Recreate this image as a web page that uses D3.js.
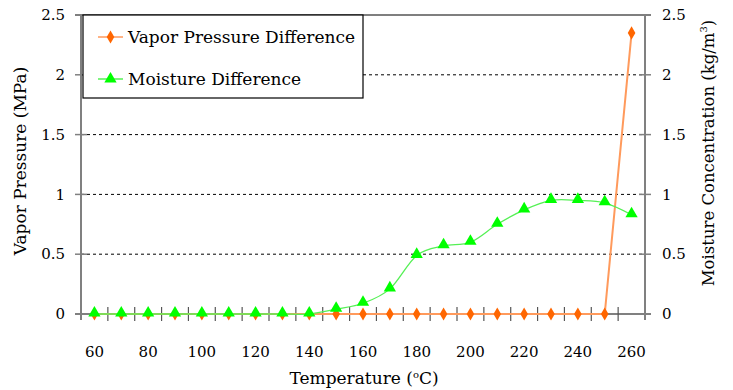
<!DOCTYPE html>
<html>
<head>
<meta charset="utf-8">
<script src="https://cdn.jsdelivr.net/npm/d3@7"></script>
<style>
  body { margin: 0; background: #fff; }
</style>
</head>
<body>
<div id="chart"></div>
<script>
// temperatures (°C)
const temps = [60, 70, 80, 90, 100, 110, 120, 130, 140, 150, 160, 170, 180, 190, 200, 210, 220, 230, 240, 250, 260];
// vapor pressure difference (MPa)
const vaporDiff = [0, 0, 0, 0, 0, 0, 0, 0, 0, 0, 0, 0, 0, 0, 0, 0, 0, 0, 0, 0, 2.35];
// moisture difference (kg/m3)
const moistureDiff = [0, 0, 0, 0, 0, 0, 0, 0, 0, 0.04, 0.09, 0.21, 0.49, 0.57, 0.6, 0.75, 0.87, 0.95, 0.95, 0.93, 0.83];
const yTicks = [0, 0.5, 1, 1.5, 2, 2.5];
const xLabels = [60, 80, 100, 120, 140, 160, 180, 200, 220, 240, 260];

const width = 733, height = 390;
const margin = { top: 15, right: 88, bottom: 76, left: 81 };
const plotW = width - margin.left - margin.right;
const plotH = height - margin.top - margin.bottom;
const serif = "DejaVu Serif"; // only serif face the renderer picks up

const svg = d3.select("#chart").append("svg")
    .attr("width", width)
    .attr("height", height);

const g = svg.append("g")
    .attr("transform", `translate(${margin.left},${margin.top})`);

const x = d3.scaleBand()
    .domain(temps)
    .range([0, plotW]);

const yL = d3.scaleLinear().domain([0, 2.5]).range([plotH, 0]);
const yR = d3.scaleLinear().domain([0, 2.5]).range([plotH, 0]);

const cx = d => x(d) + x.bandwidth() / 2;

// dashed gridlines
g.selectAll(".grid")
    .data(yTicks.filter(t => t > 0 && t < 2.5))
    .enter().append("line")
    .attr("x1", 0)
    .attr("x2", plotW)
    .attr("y1", d => yL(d))
    .attr("y2", d => yL(d))
    .attr("stroke", "#000")
    .attr("stroke-width", 1)
    .attr("stroke-dasharray", "3,3");

// top border
g.append("line")
    .attr("x1", -6).attr("x2", plotW + 6)
    .attr("y1", 0).attr("y2", 0)
    .attr("stroke", "#000").attr("stroke-width", 1.2);

// left axis
const axisCol = "#808080";
g.append("line")
    .attr("x1", 0).attr("x2", 0)
    .attr("y1", 0).attr("y2", plotH + 6)
    .attr("stroke", axisCol).attr("stroke-width", 2);
g.selectAll(".ltick")
    .data(yTicks.filter(t => t < 2.5))
    .enter().append("line")
    .attr("x1", -6).attr("x2", 6)
    .attr("y1", d => yL(d)).attr("y2", d => yL(d))
    .attr("stroke", axisCol).attr("stroke-width", 1.5);
g.selectAll(".llab")
    .data(yTicks)
    .enter().append("text")
    .attr("font-family", serif)
    .attr("font-size", 15)
    .attr("x", -16)
    .attr("y", d => yL(d))
    .attr("dy", "0.35em")
    .attr("text-anchor", "end")
    .text(d => d);

// right axis
g.append("line")
    .attr("x1", plotW).attr("x2", plotW)
    .attr("y1", 0).attr("y2", plotH + 6)
    .attr("stroke", axisCol).attr("stroke-width", 2);
g.selectAll(".rtick")
    .data(yTicks.filter(t => t < 2.5))
    .enter().append("line")
    .attr("x1", plotW - 6).attr("x2", plotW + 6)
    .attr("y1", d => yR(d)).attr("y2", d => yR(d))
    .attr("stroke", axisCol).attr("stroke-width", 1.5);
g.selectAll(".rlab")
    .data(yTicks)
    .enter().append("text")
    .attr("font-family", serif)
    .attr("font-size", 15)
    .attr("x", plotW + 17)
    .attr("y", d => yR(d))
    .attr("dy", "0.35em")
    .attr("text-anchor", "start")
    .text(d => d);

// bottom axis
g.append("line")
    .attr("x1", -6).attr("x2", plotW + 6)
    .attr("y1", plotH).attr("y2", plotH)
    .attr("stroke", axisCol).attr("stroke-width", 2);
const bounds = temps.map(t => x(t)).concat([plotW]).slice(1, -1);
g.selectAll(".xtick")
    .data(bounds)
    .enter().append("line")
    .attr("x1", d => d).attr("x2", d => d)
    .attr("y1", plotH - 7).attr("y2", plotH + 7)
    .attr("stroke", "#555").attr("stroke-width", 1.2);
g.selectAll(".xlab")
    .data(xLabels)
    .enter().append("text")
    .attr("font-family", serif)
    .attr("font-size", 15)
    .attr("x", d => cx(d))
    .attr("y", plotH + 38)
    .attr("dy", "0.35em")
    .attr("text-anchor", "middle")
    .text(d => d);

// axis titles
const xt = svg.append("text")
    .attr("font-family", serif)
    .attr("font-size", 17)
    .attr("x", margin.left + plotW / 2 + 1)
    .attr("y", 384)
    .attr("text-anchor", "middle");
xt.append("tspan").text("Temperature (");
xt.append("tspan").attr("dy", -6).attr("font-size", 10).text("o");
xt.append("tspan").attr("dy", 6).text("C)");

svg.append("text")
    .attr("font-family", serif)
    .attr("font-size", 17)
    .attr("transform", `translate(26, 161) rotate(-90)`)
    .attr("text-anchor", "middle")
    .text("Vapor Pressure (MPa)");

const rt = svg.append("text")
    .attr("font-family", serif)
    .attr("font-size", 16.5)
    .attr("transform", `translate(714, 153) rotate(-90)`)
    .attr("text-anchor", "middle");
rt.append("tspan").text("Moisture Concentration (kg/m");
rt.append("tspan").attr("dy", -7).attr("font-size", 10).text("3");
rt.append("tspan").attr("dy", 7).text(")");

// vapor pressure series
const orange = "#FF6600";
g.append("path")
    .datum(temps)
    .attr("fill", "none")
    .attr("stroke", "#FF9A5C")
    .attr("stroke-width", 2)
    .attr("d", d3.line().x(d => cx(d)).y((d, i) => yL(vaporDiff[i])));

const diamond = d3.symbol().type(d3.symbolDiamond).size(50);
g.selectAll(".vp")
    .data(temps)
    .enter().append("path")
    .attr("transform", (d, i) => `translate(${cx(d)},${yL(vaporDiff[i])})`)
    .attr("d", diamond)
    .attr("fill", orange);

// moisture series
const green = "#00FF00";
g.append("path")
    .datum(temps)
    .attr("fill", "none")
    .attr("stroke", "#55F055")
    .attr("stroke-width", 1.3)
    .attr("d", d3.line().curve(d3.curveCardinal.tension(0)).x(d => cx(d)).y((d, i) => yR(moistureDiff[i])));

const tri = d3.symbol().type(d3.symbolTriangle).size(65);
g.selectAll(".md")
    .data(temps)
    .enter().append("path")
    .attr("transform", (d, i) => `translate(${cx(d)},${yR(moistureDiff[i]) - 1})`)
    .attr("d", tri)
    .attr("fill", green);

// legend
const leg = g.append("g").attr("transform", "translate(2,0)");
leg.append("rect")
    .attr("x", 0).attr("y", 0)
    .attr("width", 280).attr("height", 83)
    .attr("fill", "#fff")
    .attr("stroke", "#000")
    .attr("stroke-width", 1.2);
const items = [
    { name: "Vapor Pressure Difference", line: "#FF9A5C", color: orange, sym: diamond, y: 22 },
    { name: "Moisture Difference", line: "#55F055", color: green, sym: tri, y: 64 }
];
items.forEach(it => {
    leg.append("line")
        .attr("x1", 15).attr("x2", 40)
        .attr("y1", it.y).attr("y2", it.y)
        .attr("stroke", it.line).attr("stroke-width", 1.5);
    leg.append("path")
        .attr("transform", `translate(27.5,${it.y})`)
        .attr("d", it.sym)
        .attr("fill", it.color);
    leg.append("text")
        .attr("font-family", serif)
        .attr("font-size", 17)
        .attr("x", 45)
        .attr("y", it.y)
        .attr("dy", "0.35em")
        .text(it.name);
});
</script>
</body>
</html>
